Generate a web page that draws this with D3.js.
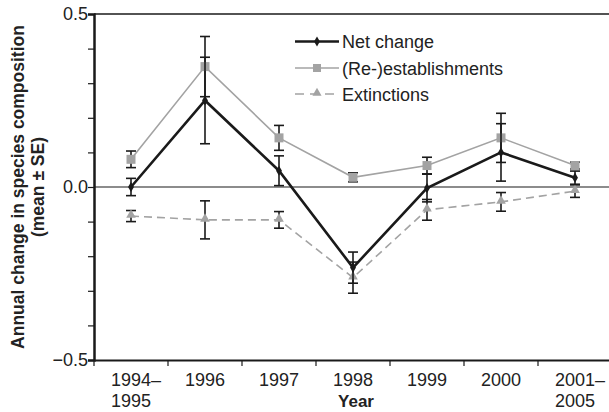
<!DOCTYPE html>
<html><head><meta charset="utf-8">
<script src="https://cdn.jsdelivr.net/npm/d3@7"></script>
<style>body{margin:0;background:#fff}svg{display:block}text{font-family:"Liberation Sans",Arial,sans-serif}</style>
</head><body><svg id="c" width="609" height="412"></svg>
<script>
const categories = ["1994–1995","1996","1997","1998","1999","2000","2001–2005"];
const netValues = [0.0, 0.25, 0.047, -0.233, -0.003, 0.10, 0.027];
const netSE = [0.025, 0.125, 0.043, 0.045, 0.04, 0.083, 0.019];
const reValues = [0.08, 0.348, 0.142, 0.028, 0.062, 0.142, 0.062];
const reSE = [0.024, 0.087, 0.036, 0.013, 0.024, 0.071, 0.01];
const extValues = [-0.084, -0.095, -0.095, -0.262, -0.066, -0.043, -0.012];
const extSE = [0.016, 0.055, 0.024, 0.045, 0.03, 0.027, 0.018];
const yTickLabels = [0.5, 0.0, -0.5];
const seriesNames = ["Net change","(Re-)establishments","Extinctions"];

const svg = d3.select("#c");
const L = 94, R = 612, T = 14, B = 360;
const x = d3.scaleBand().domain(categories).range([L, R]);
const y = d3.scaleLinear().domain([-0.5, 0.5]).range([B, T]);
const black = "#1a1a1a", gray = "#a3a3a3", txt = "#222";

// y axis
const yAxis = d3.axisLeft(y).tickValues(d3.range(-5, 6).map(d => d / 10)).tickSize(6)
  .tickFormat(d => yTickLabels.some(v => Math.abs(v - d) < 1e-9) ? d3.format(".1f")(d).replace("-", "\u2212") : "");
const gy = svg.append("g").attr("transform", `translate(${L},0)`).call(yAxis);
gy.select(".domain").attr("stroke", black).attr("stroke-width", 2.5);
gy.selectAll(".tick line").attr("stroke", black).attr("stroke-width", 1.2);
gy.selectAll(".tick text").attr("font-size", 18).attr("fill", txt).attr("x", -6);

// x axis
const xAxis = d3.axisBottom(x).tickSize(0).tickFormat("");
const gx = svg.append("g").attr("transform", `translate(0,${B})`).call(xAxis);
gx.select(".domain").attr("stroke", black).attr("stroke-width", 2);
const bounds = categories.map(c => x(c)).concat([R]);
gx.selectAll(".bt").data(bounds).enter().append("line")
  .attr("x1", d => d).attr("x2", d => d).attr("y1", 0).attr("y2", 6)
  .attr("stroke", black).attr("stroke-width", 1.2);
categories.forEach(c => {
  const xc = x(c) + x.bandwidth() / 2;
  if (c.includes("–")) {
    const [a, b] = c.split("–");
    const t2 = gx.append("text").attr("x", xc).attr("y", 47).attr("text-anchor", "middle")
      .attr("font-size", 18).attr("fill", txt).text(b);
    const w = t2.node().getBBox().width;
    gx.append("text").attr("x", xc - w / 2).attr("y", 26).attr("text-anchor", "start")
      .attr("font-size", 18).attr("fill", txt).text(a + "–");
  } else {
    gx.append("text").attr("x", xc).attr("y", 26).attr("text-anchor", "middle")
      .attr("font-size", 18).attr("fill", txt).text(c);
  }
});
svg.append("text").attr("x", x("1998") + x.bandwidth() / 2 + 3).attr("y", 407)
  .attr("text-anchor", "middle").attr("font-size", 17).attr("font-weight", "bold").attr("fill", txt).text("Year");

// top line and zero line
svg.append("line").attr("x1", L).attr("x2", R).attr("y1", y(0.5)).attr("y2", y(0.5)).attr("stroke", black).attr("stroke-width", 1.3);
svg.append("line").attr("x1", L).attr("x2", R).attr("y1", y(0)).attr("y2", y(0)).attr("stroke", black).attr("stroke-width", 1.2);

// y title
const yt = svg.append("text").attr("transform", `translate(0,${(T + B) / 2}) rotate(-90)`)
  .attr("text-anchor", "middle").attr("font-size", 17.5).attr("font-weight", "bold").attr("fill", txt);
yt.append("tspan").attr("x", 0).attr("y", 24).text("Annual change in species composition");
yt.append("tspan").attr("x", 0).attr("y", 44).text("(mean ± SE)");

const cx = c => x(c) + x.bandwidth() / 2;
function errorBars(vals, se) {
  const g = svg.append("g").attr("stroke", black).attr("stroke-width", 1.6);
  categories.forEach((c, i) => {
    const X = cx(c), y1 = y(vals[i] + se[i]), y2 = y(vals[i] - se[i]);
    g.append("line").attr("x1", X).attr("x2", X).attr("y1", y1).attr("y2", y2);
    g.append("line").attr("x1", X - 5).attr("x2", X + 5).attr("y1", y1).attr("y2", y1);
    g.append("line").attr("x1", X - 5).attr("x2", X + 5).attr("y1", y2).attr("y2", y2);
  });
}
const line = d3.line().x((d, i) => cx(categories[i])).y(d => y(d));

// extinctions
errorBars(extValues, extSE);
svg.append("path").datum(extValues).attr("d", line).attr("fill", "none").attr("stroke", gray).attr("stroke-width", 1.6).attr("stroke-dasharray", "8,5");
svg.selectAll(".tri").data(extValues).enter().append("path")
  .attr("d", d3.symbol(d3.symbolTriangle, 40)).attr("transform", (d, i) => `translate(${cx(categories[i])},${y(d) - 1})`).attr("fill", gray);

// re-establishments
errorBars(reValues, reSE);
svg.append("path").datum(reValues).attr("d", line).attr("fill", "none").attr("stroke", gray).attr("stroke-width", 1.6);
svg.selectAll(".sq").data(reValues).enter().append("rect")
  .attr("x", (d, i) => cx(categories[i]) - 4.5).attr("y", d => y(d) - 4.5).attr("width", 9).attr("height", 9).attr("fill", gray);

// net change
errorBars(netValues, netSE);
svg.append("path").datum(netValues).attr("d", line).attr("fill", "none").attr("stroke", black).attr("stroke-width", 2.6);
svg.selectAll(".dm").data(netValues).enter().append("path")
  .attr("d", d3.symbol(d3.symbolDiamond, 30)).attr("transform", (d, i) => `translate(${cx(categories[i])},${y(d)})`).attr("fill", black);

// legend
const lg = svg.append("g");
const ly = [41.5, 68, 94];
const lstyle = [{c: black, w: 2.6, dash: null, m: "diamond"}, {c: gray, w: 1.6, dash: null, m: "square"}, {c: gray, w: 1.6, dash: "8,5", m: "triangle"}];
seriesNames.forEach((n, i) => {
  const s = lstyle[i];
  lg.append("line").attr("x1", 295).attr("x2", 339).attr("y1", ly[i]).attr("y2", ly[i]).attr("stroke", s.c).attr("stroke-width", s.w).attr("stroke-dasharray", s.dash ? "9,6" : null);
  if (s.m === "diamond") lg.append("path").attr("d", d3.symbol(d3.symbolDiamond, 30)).attr("transform", `translate(317,${ly[i]})`).attr("fill", s.c);
  if (s.m === "square") lg.append("rect").attr("x", 313).attr("y", ly[i] - 4).attr("width", 8).attr("height", 8).attr("fill", s.c);
  if (s.m === "triangle") lg.append("path").attr("d", d3.symbol(d3.symbolTriangle, 36)).attr("transform", `translate(317,${ly[i] - 1})`).attr("fill", s.c);
  lg.append("text").attr("x", 342).attr("y", ly[i] + 6.5).attr("font-size", 18).attr("fill", txt).text(n);
});
</script></body></html>
